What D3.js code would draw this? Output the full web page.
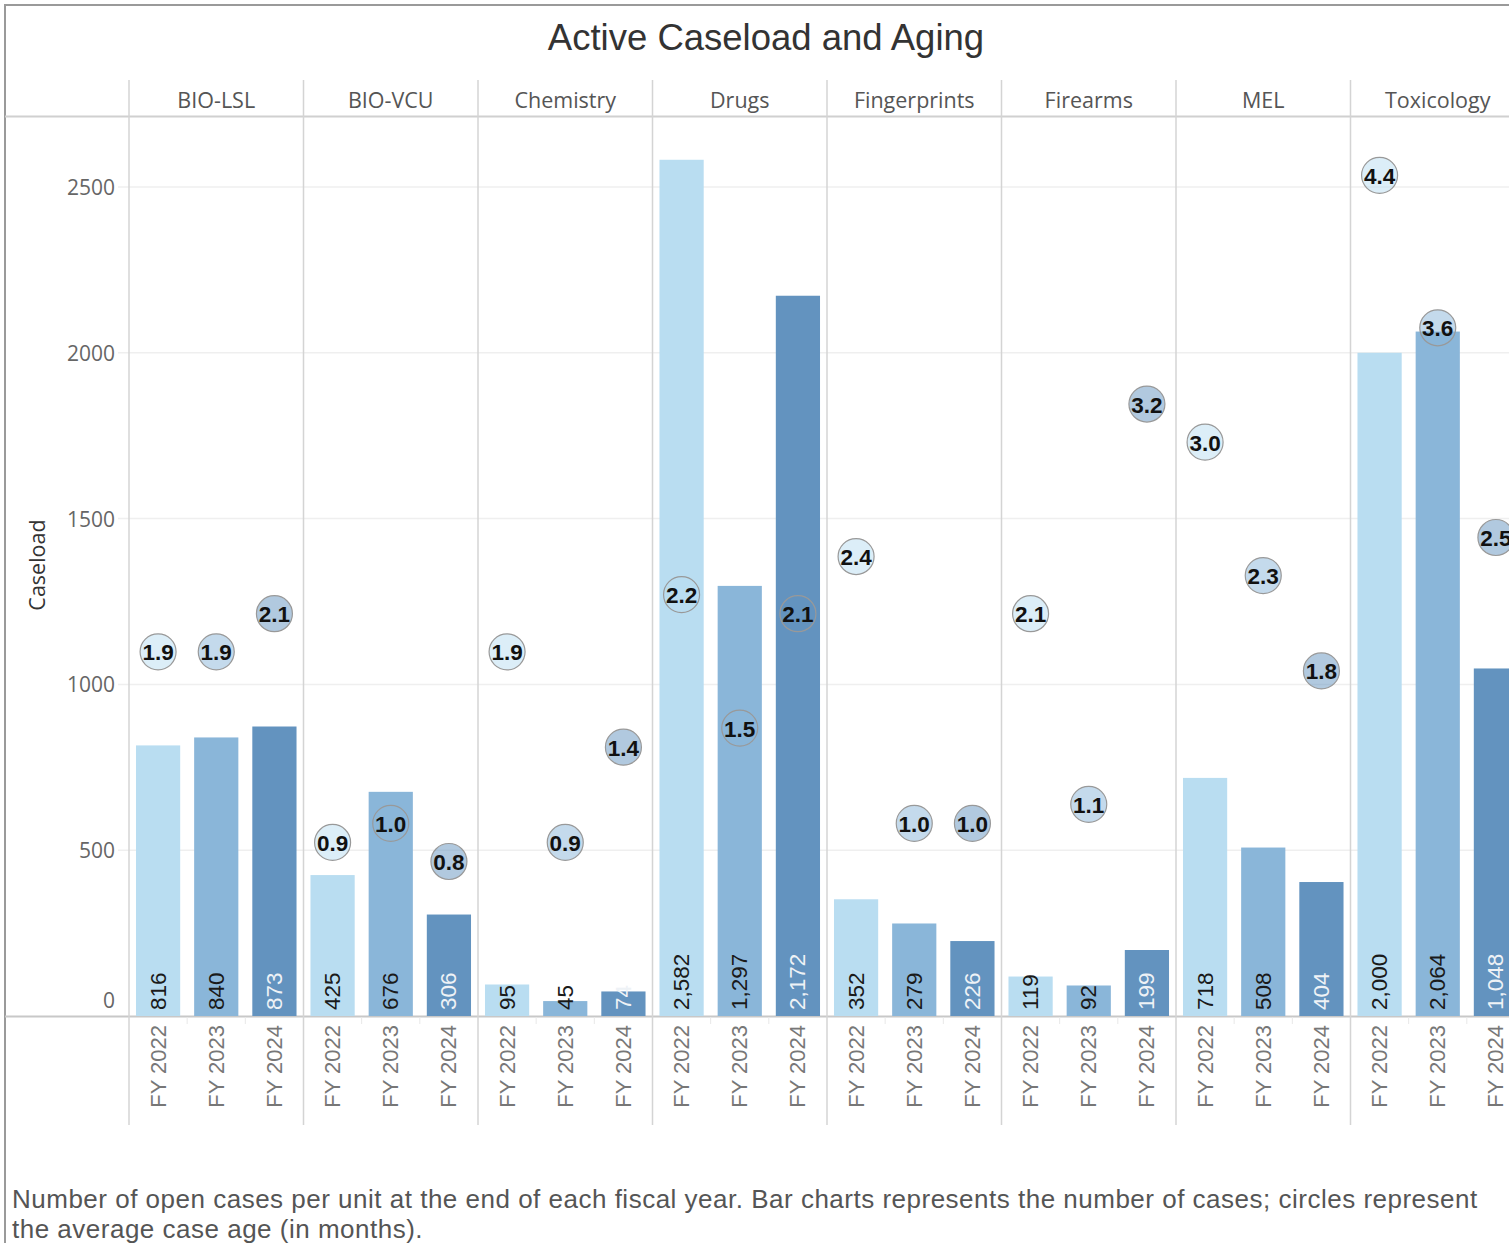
<!DOCTYPE html>
<html>
<head>
<meta charset="utf-8">
<script src="https://d3js.org/d3.v7.min.js"></script>
<style>
  body { margin: 0; background: #fff; }
  svg { display: block; }
</style>
</head>
<body>
<div id="chart"></div>
<script>
// data
var units = ["BIO-LSL", "BIO-VCU", "Chemistry", "Drugs", "Fingerprints", "Firearms", "MEL", "Toxicology"];
var years = ["FY 2022", "FY 2023", "FY 2024"];
var caseload2022 = [816, 425, 95, 2582, 352, 119, 718, 2000];
var caseload2023 = [840, 676, 45, 1297, 279, 92, 508, 2064];
var caseload2024 = [873, 306, 74, 2172, 226, 199, 404, 1048];
var age2022 = [1.9, 0.9, 1.9, 2.2, 2.4, 2.1, 3.0, 4.4];
var age2023 = [1.9, 1.0, 0.9, 1.5, 1.0, 1.1, 2.3, 3.6];
var age2024 = [2.1, 0.8, 1.4, 2.1, 1.0, 3.2, 1.8, 2.5];
var yTicks = [0, 500, 1000, 1500, 2000, 2500];

var caseload = [caseload2022, caseload2023, caseload2024];
var ages = [age2022, age2023, age2024];

var rows = [];
units.forEach(function(u, i) {
    years.forEach(function(y, j) {
        rows.push({unit: u, year: y, cases: caseload[j][i], age: ages[j][i]});
    });
});

var w = 1509, h = 1243;
var colW = 174.5;
var plotLeft = 129, plotTop = 117, base = 1016;

var svg = d3.select("#chart").append("svg")
    .attr("width", w)
    .attr("height", h);

var color = d3.scaleOrdinal().domain(years).range(["#b9ddf1", "#8ab6d9", "#6393bf"]);

var xOuter = d3.scaleBand().domain(units).range([plotLeft, plotLeft + colW * units.length]);
var xInner = d3.scaleBand().domain(years).range([0, colW]).paddingInner(0.24).paddingOuter(0.12);
var y = d3.scaleLinear().domain([0, 2711]).range([base, plotTop]);
var yAge = d3.scaleLinear().domain([0, 4.706]).range([1014, plotTop]);

function cx(d) { return xOuter(d.unit) + xInner(d.year) + xInner.bandwidth() / 2; }

// outer frame
svg.append("rect")
    .attr("x", 5).attr("y", 5)
    .attr("width", w + 20).attr("height", h + 20)
    .style("fill", "none")
    .style("stroke", "#9a9a9a")
    .style("stroke-width", 2);

// title
svg.append("text")
    .attr("x", 766).attr("y", 37)
    .attr("text-anchor", "middle")
    .attr("dominant-baseline", "central")
    .style("font-family", "'Liberation Sans', Arial, sans-serif")
    .style("font-size", "36.5px")
    .style("fill", "#333")
    .text("Active Caseload and Aging");

// gridlines
svg.selectAll(".grid")
    .data(yTicks.filter(function(t){ return t > 0; }))
    .enter().append("line")
    .attr("class", "grid")
    .attr("x1", 118).attr("x2", w)
    .attr("y1", function(d){ return y(d); })
    .attr("y2", function(d){ return y(d); })
    .style("stroke", "#efefef")
    .style("stroke-width", 1.5);

// y axis tick labels
svg.selectAll(".ytick")
    .data(yTicks)
    .enter().append("text")
    .attr("class", "ytick")
    .attr("x", 115)
    .attr("y", function(d){ return d === 0 ? y(d) - 16 : y(d); })
    .attr("text-anchor", "end")
    .attr("dominant-baseline", "central")
    .style("font-family", "'Open Sans', sans-serif")
    .style("font-size", "21px")
    .style("fill", "#666")
    .text(function(d){ return d; });

svg.append("text")
    .attr("transform", "translate(36,565) rotate(-90)")
    .attr("text-anchor", "middle")
    .attr("dominant-baseline", "central")
    .style("font-family", "'Open Sans', sans-serif")
    .style("font-size", "21.5px")
    .style("fill", "#333")
    .text("Caseload");

// header line and baseline
svg.append("line")
    .attr("x1", 5).attr("x2", w).attr("y1", 116.5).attr("y2", 116.5)
    .style("stroke", "#d0d0d0").style("stroke-width", 2);
svg.append("line")
    .attr("x1", 5).attr("x2", w).attr("y1", base + 0.5).attr("y2", base + 0.5)
    .style("stroke", "#c8c8c8").style("stroke-width", 2);

// column separators
var seps = units.map(function(u){ return xOuter(u); });
seps.push(plotLeft + colW * units.length);
svg.selectAll(".sep")
    .data(seps)
    .enter().append("line")
    .attr("class", "sep")
    .attr("x1", function(d){ return d; }).attr("x2", function(d){ return d; })
    .attr("y1", 80).attr("y2", 1125)
    .style("stroke", "#d4d4d4")
    .style("stroke-width", 1.5);

// small ticks between the years
svg.selectAll(".minor")
    .data(rows.filter(function(d){ return d.year !== years[0]; }))
    .enter().append("line")
    .attr("class", "minor")
    .attr("x1", function(d){ return xOuter(d.unit) + xInner(d.year) - xInner.step() * 0.12; })
    .attr("x2", function(d){ return xOuter(d.unit) + xInner(d.year) - xInner.step() * 0.12; })
    .attr("y1", base + 1).attr("y2", base + 8)
    .style("stroke", "#e8e8e8");

// column headers
svg.selectAll(".header")
    .data(units)
    .enter().append("text")
    .attr("class", "header")
    .attr("x", function(d){ return xOuter(d) + colW / 2; })
    .attr("y", 99)
    .attr("text-anchor", "middle")
    .attr("dominant-baseline", "central")
    .style("font-family", "'Open Sans', sans-serif")
    .style("font-size", "21.5px")
    .style("fill", "#555")
    .text(function(d){ return d; });

// bars
svg.selectAll(".bar")
    .data(rows)
    .enter().append("rect")
    .attr("class", "bar")
    .attr("x", function(d){ return xOuter(d.unit) + xInner(d.year); })
    .attr("width", xInner.bandwidth())
    .attr("y", function(d){ return y(d.cases); })
    .attr("height", function(d){ return base - y(d.cases); })
    .style("fill", function(d){ return color(d.year); });

// bar value labels
svg.selectAll(".barlabel")
    .data(rows)
    .enter().append("text")
    .attr("class", "barlabel")
    .attr("transform", function(d){ return "translate(" + cx(d) + "," + (base - 6) + ") rotate(-90)"; })
    .attr("dominant-baseline", "central")
    .style("font-family", "'Liberation Sans', Arial, sans-serif")
    .style("font-size", "22.5px")
    .style("fill", function(d){ return d.year === years[2] ? "#eef2f6" : "#1a1a1a"; })
    .text(function(d){ return d3.format(",")(d.cases); });

// year labels
svg.selectAll(".xlabel")
    .data(rows)
    .enter().append("text")
    .attr("class", "xlabel")
    .attr("transform", function(d){ return "translate(" + cx(d) + ",1025) rotate(-90)"; })
    .attr("text-anchor", "end")
    .attr("dominant-baseline", "central")
    .style("font-family", "'Liberation Sans', Arial, sans-serif")
    .style("font-size", "22px")
    .style("fill", "#777")
    .text(function(d){ return d.year; });

// aging circles
svg.selectAll(".age")
    .data(rows)
    .enter().append("circle")
    .attr("class", "age")
    .attr("cx", cx)
    .attr("cy", function(d){ return yAge(d.age); })
    .attr("r", 18)
    .style("fill", function(d){ return color(d.year); })
    .style("fill-opacity", 0.5)
    .style("stroke", "#999")
    .style("stroke-width", 1.2);

svg.selectAll(".agelabel")
    .data(rows)
    .enter().append("text")
    .attr("class", "agelabel")
    .attr("x", cx)
    .attr("y", function(d){ return yAge(d.age) + 1; })
    .attr("text-anchor", "middle")
    .attr("dominant-baseline", "central")
    .style("font-family", "'Liberation Sans', Arial, sans-serif")
    .style("font-size", "22.5px")
    .style("font-weight", "bold")
    .style("fill", "#111")
    .text(function(d){ return d3.format(".1f")(d.age); });

// footer note
var note = svg.append("text")
    .style("font-family", "'Liberation Sans', Arial, sans-serif")
    .style("font-size", "26px")
    .style("letter-spacing", "0.5px")
    .style("fill", "#555");
note.append("tspan").attr("x", 12).attr("y", 1208)
    .text("Number of open cases per unit at the end of each fiscal year. Bar charts represents the number of cases; circles represent");
note.append("tspan").attr("x", 12).attr("y", 1238)
    .text("the average case age (in months).");
</script>
</body>
</html>
